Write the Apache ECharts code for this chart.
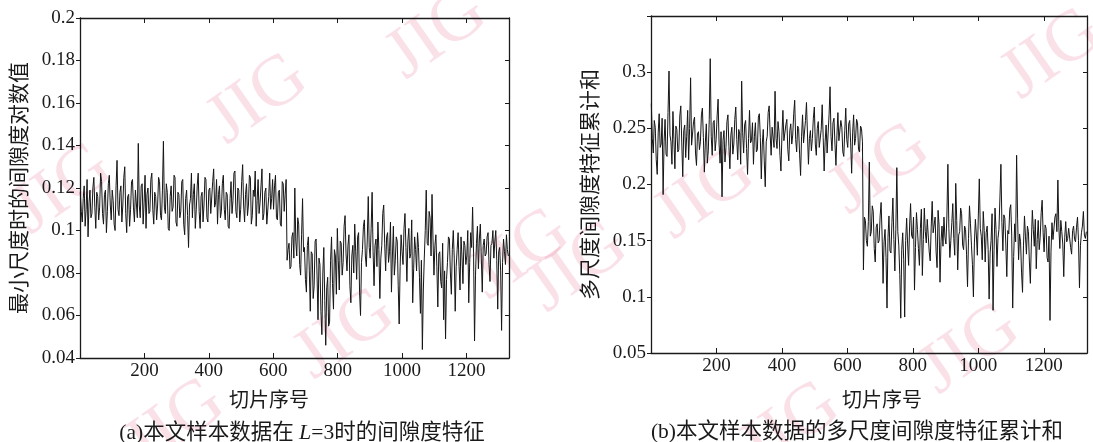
<!DOCTYPE html>
<html>
<head>
<meta charset="utf-8">
<script src="https://cdn.jsdelivr.net/npm/echarts@6.0.0/dist/echarts.min.js"></script>
<style>
  html, body { margin: 0; padding: 0; background: #fff; }
  #chart { width: 1093px; height: 442px; }
</style>
</head>
<body>
<div id="chart"></div>
<script>
// slice numbers are sampled every 3 slices (1 .. 1330)
var sliceStep = 3;
var sliceCount = 444;
var sliceNo = [];
for (var i = 0; i < sliceCount; i++) sliceNo.push(1 + i * sliceStep);

// (a) gap value at smallest scale (L=3)
var gapL3 = [
  0.118,0.109, 0.104,0.115, 0.121,0.102, 0.110,0.124, 0.097,0.113, 0.119,0.106, 0.108,0.120, 0.125,0.111, 0.101,0.118, 0.116,0.105,
  0.111,0.127, 0.123,0.108, 0.103,0.117, 0.119,0.099, 0.109,0.122, 0.126,0.112, 0.105,0.119, 0.114,0.103, 0.100,0.121, 0.133,0.110,
  0.107,0.118, 0.121,0.104, 0.112,0.125, 0.130,0.108, 0.099,0.116, 0.117,0.102, 0.110,0.123, 0.124,0.111, 0.104,0.119, 0.119,0.106,
  0.141,0.112, 0.106,0.121, 0.122,0.103, 0.113,0.126, 0.101,0.117, 0.120,0.108, 0.109,0.124, 0.127,0.110, 0.103,0.118, 0.116,0.105,
  0.112,0.125, 0.123,0.107, 0.105,0.119, 0.142,0.111, 0.108,0.122, 0.118,0.101, 0.100,0.116, 0.121,0.109, 0.111,0.126, 0.125,0.104,
  0.102,0.118, 0.117,0.106, 0.109,0.123, 0.124,0.103, 0.098,0.115, 0.119,0.107, 0.092,0.112, 0.115,0.127, 0.106,0.117, 0.122,0.101,
  0.110,0.121, 0.127,0.109, 0.101,0.116, 0.118,0.104, 0.112,0.125, 0.124,0.106, 0.104,0.119, 0.120,0.108, 0.108,0.123, 0.129,0.111,
  0.113,0.124, 0.103,0.117, 0.121,0.106, 0.109,0.122, 0.126,0.110, 0.105,0.118, 0.117,0.102, 0.101,0.115, 0.123,0.108, 0.114,0.127,
  0.128,0.109, 0.106,0.120, 0.119,0.104, 0.110,0.123, 0.131,0.112, 0.104,0.117, 0.122,0.107, 0.112,0.126, 0.125,0.103, 0.107,0.119,
  0.116,0.128, 0.102,0.114, 0.124,0.108, 0.113,0.121, 0.129,0.105, 0.108,0.118, 0.120,0.103, 0.103,0.116, 0.127,0.110, 0.115,0.124,
  0.110,0.121, 0.126,0.106, 0.105,0.118, 0.119,0.103, 0.102,0.123, 0.122,0.109, 0.117,0.124,
  0.086,0.091, 0.094,0.082, 0.083,0.097,
  0.099,0.087, 0.120,0.095, 0.088,0.106, 0.103,0.084, 0.079,0.098, 0.115,0.090, 0.092,0.077, 0.071,0.093, 0.097,0.081, 0.062,0.090,
  0.089,0.068, 0.074,0.095, 0.096,0.079, 0.058,0.087, 0.084,0.062, 0.051,0.080, 0.092,0.067, 0.046,0.073, 0.078,0.055, 0.057,0.086,
  0.097,0.075, 0.063,0.091, 0.088,0.070, 0.101,0.086, 0.072,0.095, 0.094,0.079, 0.085,0.102, 0.107,0.089, 0.081,0.093, 0.098,0.074,
  0.066,0.088, 0.093,0.080, 0.103,0.090, 0.077,0.097, 0.099,0.071, 0.060,0.085, 0.091,0.102, 0.105,0.088, 0.083,0.096, 0.116,0.092,
  0.087,0.101, 0.118,0.090, 0.074,0.093, 0.096,0.083, 0.104,0.091, 0.068,0.087, 0.093,0.108, 0.112,0.094, 0.081,0.097, 0.099,0.085,
  0.090,0.104, 0.071,0.088, 0.102,0.079, 0.086,0.097, 0.095,0.074, 0.056,0.083, 0.098,0.090, 0.084,0.101, 0.108,0.092, 0.076,0.095,
  0.101,0.087, 0.089,0.105, 0.066,0.082, 0.097,0.091, 0.081,0.099, 0.092,0.078, 0.061,0.086, 0.044,0.072, 0.087,0.100, 0.119,0.094,
  0.093,0.109, 0.106,0.088, 0.117,0.096, 0.079,0.093, 0.098,0.083, 0.064,0.089, 0.090,0.076, 0.073,0.094, 0.058,0.081, 0.049,0.077,
  0.085,0.097, 0.096,0.080, 0.070,0.091, 0.100,0.087, 0.062,0.083, 0.091,0.099, 0.083,0.072, 0.097,0.088, 0.075,0.095, 0.093,0.084,
  0.088,0.100, 0.066,0.085, 0.099,0.092, 0.111,0.089, 0.048,0.079, 0.094,0.102, 0.082,0.096, 0.103,0.087, 0.071,0.093, 0.096,0.088,
  0.089,0.097, 0.099,0.084, 0.076,0.093, 0.094,0.100, 0.087,0.095, 0.100,0.086, 0.063,0.090, 0.092,0.081, 0.053,0.085, 0.096,0.090,
  0.084,0.098, 0.091,0.088
];

// (b) accumulated multi-scale gap feature
var gapSum = [
  0.272,0.241, 0.228,0.257, 0.251,0.222, 0.209,0.246, 0.263,0.233, 0.236,0.259, 0.191,0.238, 0.258,0.227, 0.225,0.264, 0.301,0.244,
  0.238,0.218, 0.265,0.240, 0.214,0.252, 0.249,0.229, 0.231,0.261, 0.270,0.237, 0.207,0.248, 0.253,0.224, 0.243,0.266, 0.222,0.250,
  0.295,0.235, 0.234,0.256, 0.260,0.228, 0.217,0.245, 0.247,0.231, 0.238,0.262, 0.268,0.242, 0.211,0.237, 0.254,0.219, 0.230,0.258,
  0.312,0.243, 0.226,0.255, 0.257,0.230, 0.240,0.261, 0.276,0.236, 0.219,0.247, 0.189,0.239, 0.248,0.220, 0.233,0.256, 0.262,0.234,
  0.214,0.244, 0.251,0.227, 0.236,0.258, 0.269,0.240, 0.222,0.249, 0.245,0.218, 0.292,0.246, 0.228,0.253, 0.257,0.232, 0.209,0.241,
  0.266,0.237, 0.239,0.255, 0.218,0.243, 0.255,0.229, 0.231,0.260, 0.263,0.242, 0.205,0.236, 0.249,0.221, 0.198,0.238, 0.243,0.264,
  0.270,0.245, 0.226,0.251, 0.252,0.233, 0.283,0.241, 0.232,0.256, 0.247,0.226, 0.212,0.244, 0.266,0.239, 0.238,0.253, 0.258,0.231,
  0.221,0.248, 0.254,0.236, 0.244,0.263, 0.275,0.240, 0.229,0.252, 0.250,0.227, 0.208,0.243, 0.262,0.237, 0.236,0.257, 0.273,0.245,
  0.218,0.241, 0.248,0.230, 0.241,0.259, 0.269,0.236, 0.226,0.250, 0.256,0.233, 0.234,0.249, 0.271,0.242, 0.212,0.238, 0.253,0.228,
  0.245,0.262, 0.287,0.243, 0.230,0.255, 0.259,0.236, 0.217,0.244, 0.264,0.239, 0.239,0.257, 0.251,0.229, 0.225,0.248, 0.268,0.240,
  0.233,0.254, 0.257,0.237, 0.210,0.246, 0.262,0.235, 0.241,0.258, 0.255,0.231, 0.229,0.252, 0.250,0.238,
  0.124,0.171, 0.168,0.150,
  0.145,0.167, 0.220,0.154, 0.158,0.181, 0.176,0.143, 0.131,0.162, 0.165,0.148, 0.150,0.172, 0.184,0.155, 0.112,0.149, 0.160,0.135,
  0.090,0.153, 0.172,0.141, 0.139,0.166, 0.188,0.151, 0.123,0.160, 0.215,0.158, 0.146,0.120, 0.081,0.142, 0.157,0.133, 0.082,0.150,
  0.170,0.147, 0.128,0.163, 0.183,0.155, 0.152,0.171, 0.106,0.144, 0.175,0.160, 0.143,0.128, 0.161,0.178, 0.119,0.151, 0.179,0.158,
  0.148,0.169, 0.168,0.140, 0.132,0.162, 0.185,0.157, 0.156,0.171, 0.140,0.126, 0.177,0.164, 0.113,0.149, 0.163,0.145, 0.171,0.153,
  0.147,0.172, 0.218,0.161, 0.135,0.150, 0.166,0.183, 0.152,0.137, 0.201,0.168, 0.124,0.155, 0.158,0.179, 0.174,0.146, 0.142,0.163,
  0.160,0.138, 0.109,0.152, 0.181,0.165, 0.146,0.129, 0.100,0.148, 0.169,0.155, 0.137,0.172, 0.205,0.161, 0.154,0.133, 0.176,0.159,
  0.131,0.157, 0.163,0.142, 0.098,0.139, 0.150,0.174, 0.088,0.141, 0.179,0.160, 0.127,0.152, 0.160,0.188, 0.218,0.166, 0.141,0.173,
  0.170,0.147, 0.118,0.159, 0.156,0.178, 0.182,0.155, 0.090,0.136, 0.165,0.149, 0.226,0.170, 0.133,0.156, 0.149,0.122, 0.104,0.146,
  0.172,0.154, 0.138,0.163, 0.158,0.131, 0.112,0.148, 0.177,0.160, 0.145,0.169, 0.125,0.151, 0.168,0.142, 0.153,0.175, 0.186,0.157,
  0.140,0.164, 0.161,0.135, 0.131,0.154, 0.079,0.140, 0.166,0.151, 0.150,0.171, 0.174,0.158, 0.204,0.162, 0.143,0.168, 0.158,0.147,
  0.118,0.153, 0.167,0.149, 0.152,0.161, 0.160,0.144, 0.138,0.159, 0.163,0.151, 0.149,0.162, 0.171,0.150, 0.108,0.146, 0.157,0.163,
  0.176,0.155, 0.152,0.158
];

var xTicks = [200, 400, 600, 800, 1000, 1200];
var yTicksA = [0.04, 0.06, 0.08, 0.1, 0.12, 0.14, 0.16, 0.18, 0.2];
var yTicksB = [0.05, 0.1, 0.15, 0.2, 0.25, 0.3];

var serif = 'Liberation Serif, Noto Sans CJK SC';
var cjk = 'Noto Sans CJK SC';
var ink = '#1a1a1a';

function xAxisOf(grid, pos) {
  var main = pos === 'bottom';
  return {
    type: 'value', gridIndex: grid, position: pos,
    min: 0, max: 1332, interval: 200,
    axisLine: { show: true, onZero: false, lineStyle: { color: ink, width: 1.3 } },
    axisTick: { show: true, inside: true, length: 5, lineStyle: { color: ink } },
    axisLabel: {
      show: main, margin: 4, fontFamily: serif, fontSize: 19, color: ink,
      formatter: function (v) { return xTicks.indexOf(v) >= 0 ? String(v) : ''; }
    },
    splitLine: { show: false }
  };
}

function yAxisOf(grid, pos, lo, hi, step, ticks, name) {
  var main = pos === 'left';
  return {
    type: 'value', gridIndex: grid, position: pos,
    min: lo, max: hi, interval: step,
    name: main ? name : '', nameLocation: 'middle', nameGap: 51,
    nameTextStyle: { fontFamily: cjk, fontSize: 21, color: ink },
    axisLine: { show: true, onZero: false, lineStyle: { color: ink, width: 1.3 } },
    axisTick: { show: true, inside: !main, length: 4, lineStyle: { color: ink } },
    axisLabel: {
      show: main, margin: 5, fontFamily: serif, fontSize: 19, color: ink,
      formatter: function (v) {
        var r = +v.toFixed(2);
        return ticks.indexOf(r) >= 0 ? String(r) : '';
      }
    },
    splitLine: { show: false }
  };
}

function mark(x, y) {
  return {
    type: 'text', x: x, y: y, z: -10, rotation: 35 * Math.PI / 180,
    style: {
      text: 'JIG', font: '72px Liberation Serif',
      fill: 'rgba(232,120,150,0.22)', align: 'center', verticalAlign: 'middle'
    }
  };
}

function label(text, cx, top, size, rich) {
  return {
    text: text, left: cx, top: top, textAlign: 'center',
    textStyle: {
      fontFamily: serif, fontSize: size, fontWeight: 'normal', color: ink,
      rich: rich || {}
    }
  };
}

var chart = echarts.init(document.getElementById('chart'));
var option = {
  backgroundColor: '#fff',
  animation: false,
  graphic: [
    mark(258, 100), mark(437, 35), mark(62, 190), mark(175, 425),
    mark(345, 335), mark(520, 255), mark(705, 195), mark(880, 170),
    mark(1052, 55), mark(970, 350), mark(790, 428), mark(578, 268)
  ],
  title: [
    label('切片序号', 264, 387, 20),
    label('切片序号', 877, 387, 20),
    label('(a)本文样本数据在 {i|L}=3时的间隙度特征', 297, 417, 21.5,
      { i: { fontFamily: serif, fontSize: 22, fontStyle: 'italic', color: ink } }),
    label('(b)本文样本数据的多尺度间隙度特征累计和', 852, 417, 21.5)
  ],
  grid: [
    { left: 80, top: 18, width: 429, height: 340 },
    { left: 651, top: 16, width: 436, height: 337 }
  ],
  xAxis: [
    xAxisOf(0, 'bottom'), xAxisOf(0, 'top'),
    xAxisOf(1, 'bottom'), xAxisOf(1, 'top')
  ],
  yAxis: [
    yAxisOf(0, 'left', 0.04, 0.2, 0.02, yTicksA, '最小尺度时的间隙度对数值'),
    yAxisOf(0, 'right', 0.04, 0.2, 0.02, yTicksA, ''),
    yAxisOf(1, 'left', 0.05, 0.35, 0.05, yTicksB, '多尺度间隙度特征累计和'),
    yAxisOf(1, 'right', 0.05, 0.35, 0.05, yTicksB, '')
  ],
  series: [
    {
      type: 'line', xAxisIndex: 0, yAxisIndex: 0, showSymbol: false, symbol: 'none',
      lineStyle: { color: '#151515', width: 1 },
      data: sliceNo.map(function (x, k) { return [x, gapL3[k]]; })
    },
    {
      type: 'line', xAxisIndex: 2, yAxisIndex: 2, showSymbol: false, symbol: 'none',
      lineStyle: { color: '#151515', width: 1 },
      data: sliceNo.map(function (x, k) { return [x, gapSum[k]]; })
    }
  ]
};
chart.setOption(option);
window.addEventListener('resize', function () { chart.resize(); });
</script>
</body>
</html>
